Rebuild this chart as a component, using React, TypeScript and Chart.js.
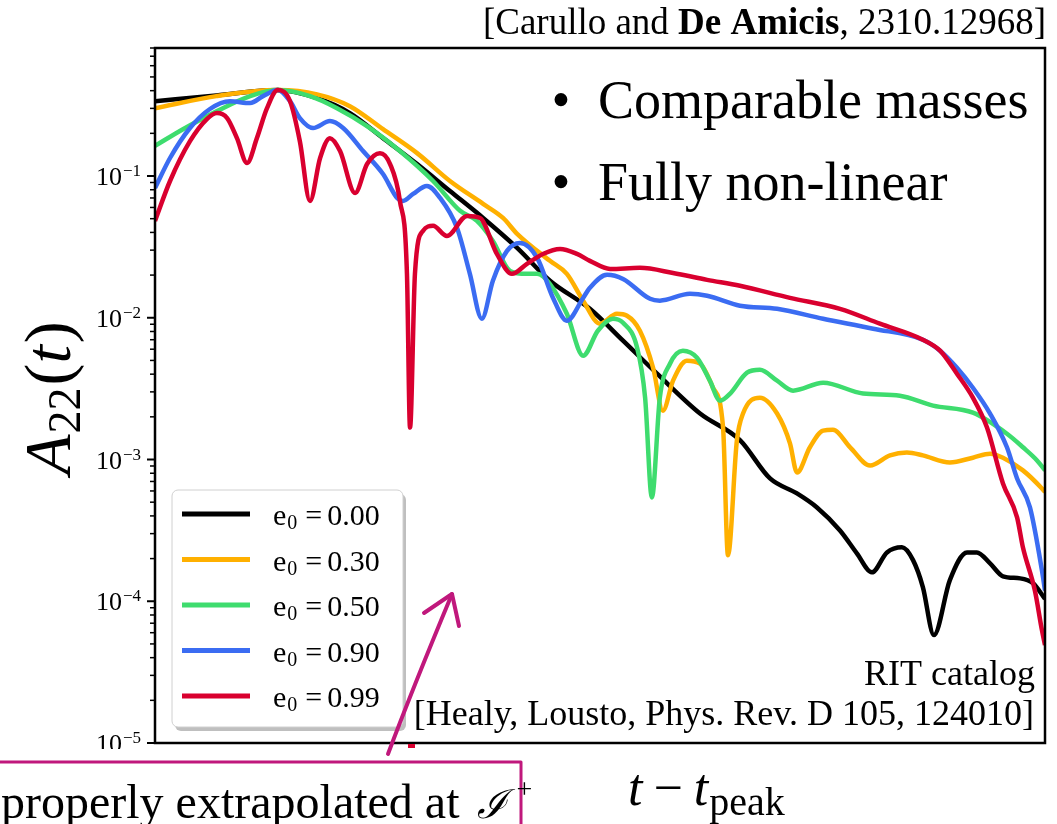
import React, { useEffect, useRef } from 'react';
import { Chart, registerables } from 'chart.js';

Chart.register(...registerables);

// ---------------- data ----------------
const eccLabels = ['0.00', '0.30', '0.50', '0.90', '0.99'];
const lineColors = ['#000000', '#FFB000', '#3EDC6E', '#3B6CF2', '#D9002F'];

// e0 = 0.00
const tE000 = [-40, -20, 0, 12.8, 23.5, 34.3, 45.4, 56.1, 66.9, 78.0, 88.7, 101.7, 112.5, 123.6, 137.6, 150.6, 160.4, 169.2, 175.7, 183.2, 188.7, 193.6, 198.5, 203.4, 207.0, 210.2, 213.8, 219.0, 224.6, 227.8, 232.1, 236.3, 241.9, 246.1, 250];
const aE000 = [0.337, 0.37, 0.404, 0.354, 0.278, 0.185, 0.1215, 0.0784, 0.0506, 0.0311, 0.01825, 0.01156, 0.00689, 0.00403, 0.00211, 0.00137, 0.000735, 0.000576, 0.000459, 0.000316, 0.000218, 0.00016, 0.000221, 0.00024, 0.000195, 0.000126, 5.77e-5, 0.000141, 0.000221, 0.000221, 0.000185, 0.00015, 0.000145, 0.000134, 0.000104];

// e0 = 0.30
const tE030 = [-40, -20, 0, 12.8, 23.5, 34.3, 45.4, 56.1, 66.9, 73.4, 78.0, 88.7, 94.2, 99.5, 105.0, 110.5, 113.8, 118.0, 122.3, 125.5, 128.8, 133.3, 137.6, 141.8, 145.1, 146.7, 149.6, 151.6, 157.1, 162.7, 166.9, 169.2, 173.4, 177.7, 180.9, 186.5, 193.0, 199.5, 205.0, 210.2, 219.0, 226.5, 232.1, 236.3, 242.8, 249.0, 250];
const aE030 = [0.301, 0.366, 0.404, 0.377, 0.311, 0.214, 0.145, 0.0922, 0.0636, 0.0506, 0.0391, 0.0252, 0.0204, 0.0132, 0.00908, 0.01067, 0.01033, 0.0081, 0.00444, 0.00221, 0.0036, 0.00497, 0.00474, 0.00321, 0.00168, 0.000211, 0.00136, 0.00211, 0.00273, 0.00211, 0.0013, 0.00081, 0.00122, 0.0016, 0.00162, 0.00122, 0.000908, 0.00107, 0.00112, 0.00107, 0.000953, 0.00103, 0.0011, 0.00103, 0.000838, 0.000625, 0.00059];

// e0 = 0.50
const tE050 = [-40, -30.9, -19.8, -9.0, 0, 10.5, 19.3, 29.1, 39.8, 50.6, 59.4, 64.9, 70.1, 75.7, 81.2, 84.5, 88.7, 94.2, 99.5, 104.3, 109.2, 112.5, 117.1, 119.7, 121.9, 124.5, 127.8, 132.0, 136.6, 140.8, 144.1, 147.4, 152.9, 157.1, 162.7, 167.9, 177.7, 190.7, 202.7, 213.5, 226.5, 237.6, 242.8, 247.4, 250];
const aE050 = [0.163, 0.214, 0.287, 0.366, 0.404, 0.366, 0.301, 0.225, 0.15, 0.0922, 0.0568, 0.0482, 0.0348, 0.0214, 0.0204, 0.0204, 0.0173, 0.01067, 0.0054, 0.0081, 0.00984, 0.00922, 0.00615, 0.00273, 0.00054, 0.00273, 0.00474, 0.00586, 0.00523, 0.0036, 0.0026, 0.00292, 0.0041, 0.0043, 0.0036, 0.00306, 0.00348, 0.00292, 0.00282, 0.0024, 0.00214, 0.00152, 0.00122, 0.000985, 0.000838];

// e0 = 0.90
const tE090 = [-40, -35.1, -28.6, -22.1, -15.6, -9.0, -4.8, 0, 4.0, 7.2, 11.5, 17.0, 21.3, 27.8, 34.3, 38.9, 40.8, 44.1, 48.6, 52.9, 58.4, 62.6, 66.5, 70.1, 74.7, 78.9, 84.5, 89.7, 94.2, 99.5, 101.7, 107.3, 112.5, 121.3, 124.5, 134.3, 139.9, 150.6, 162.7, 177.7, 194.0, 210.2, 215.8, 221.3, 226.5, 232.1, 237.6, 240.9, 245.1, 249.0, 250];
const aE090 = [0.0823, 0.134, 0.218, 0.297, 0.337, 0.327, 0.366, 0.404, 0.337, 0.256, 0.218, 0.244, 0.218, 0.15, 0.1033, 0.07, 0.0667, 0.0747, 0.0851, 0.07, 0.0431, 0.0204, 0.00984, 0.01825, 0.0296, 0.0337, 0.0265, 0.0138, 0.00953, 0.0138, 0.01626, 0.0201, 0.0188, 0.0136, 0.0132, 0.01476, 0.0143, 0.01216, 0.01156, 0.00984, 0.00837, 0.007, 0.00586, 0.00444, 0.00321, 0.00211, 0.00122, 0.000735, 0.000459, 0.000165, 0.000119];

// e0 = 0.99
const tE099 = [-40, -35.1, -28.6, -23.1, -19.8, -16.5, -13.3, -10.0, -6.8, -3.5, 0, 4.0, 7.2, 10.5, 13.8, 17.0, 20.3, 25.2, 29.1, 33.3, 36.6, 39.8, 42.1, 43.1, 44.7, 47.3, 50.6, 55.1, 61.7, 65.9, 71.4, 76.3, 81.2, 86.4, 92.0, 97.5, 101.7, 108.3, 118.0, 128.8, 139.9, 150.6, 166.9, 183.2, 196.2, 210.2, 215.8, 221.3, 226.5, 231.1, 236.3, 240.9, 242.8, 246.7, 249.0, 250];
const aE099 = [0.0482, 0.0922, 0.176, 0.252, 0.278, 0.256, 0.185, 0.1236, 0.185, 0.301, 0.404, 0.337, 0.176, 0.0667, 0.134, 0.185, 0.15, 0.0759, 0.1215, 0.145, 0.1215, 0.0667, 0.0204, 0.00168, 0.0204, 0.041, 0.0445, 0.0378, 0.0523, 0.0506, 0.0282, 0.0204, 0.024, 0.0282, 0.0306, 0.0282, 0.0252, 0.0221, 0.0225, 0.0207, 0.0185, 0.0168, 0.0138, 0.01156, 0.00908, 0.007, 0.00586, 0.00403, 0.00273, 0.00168, 0.000678, 0.000391, 0.00024, 0.000119, 6.25e-5, 4.9e-5];

const seriesT = [tE000, tE030, tE050, tE090, tE099];
const seriesA = [aE000, aE030, aE050, aE090, aE099];

const yDecades = [1e-1, 1e-2, 1e-3, 1e-4, 1e-5];
const yDecadeExps = ['\u22121', '\u22122', '\u22123', '\u22124', '\u22125'];
const xMin = -40;
const xMax = 250;
const yMin = 1e-5;
const yMax = 0.8;

// ---------------- helpers ----------------
type Run = { text: string; font: string; dy?: number; gap?: number };

function runsWidth(ctx: CanvasRenderingContext2D, runs: Run[]) {
  let w = 0;
  for (const r of runs) {
    ctx.font = r.font;
    w += ctx.measureText(r.text).width + (r.gap || 0);
  }
  return w;
}

function drawRuns(ctx: CanvasRenderingContext2D, runs: Run[], x: number, y: number) {
  let cx = x;
  ctx.textAlign = 'left';
  ctx.textBaseline = 'alphabetic';
  for (const r of runs) {
    ctx.font = r.font;
    ctx.fillText(r.text, cx, y + (r.dy || 0));
    cx += ctx.measureText(r.text).width + (r.gap || 0);
  }
  return cx;
}

const SERIF = '"Liberation Serif", "DejaVu Serif", serif';
const PINK = '#C0187C';

const decor = {
  id: 'decor',
  afterDraw(chart: any) {
    const ctx: CanvasRenderingContext2D = chart.ctx;
    const area = chart.chartArea;
    const ys = chart.scales.y;
    ctx.save();
    ctx.fillStyle = '#000';

    // frame
    ctx.strokeStyle = '#000';
    ctx.lineWidth = 2.5;
    ctx.strokeRect(area.left, area.top, area.right - area.left, area.bottom - area.top);

    // y ticks (major + minor)
    for (const dec of yDecades) {
      for (let m = 1; m <= 9; m++) {
        const v = m * dec;
        if (v > yMax * 1.0001) continue;
        const py = ys.getPixelForValue(v);
        const major = m === 1;
        ctx.lineWidth = major ? 2 : 1.5;
        ctx.beginPath();
        ctx.moveTo(area.left - (major ? 8 : 5), py);
        ctx.lineTo(area.left, py);
        ctx.stroke();
      }
    }
    // y tick labels
    yDecades.forEach((v, i) => {
      const py = ys.getPixelForValue(v);
      const runs: Run[] = [
        { text: '10', font: `26px ${SERIF}`, gap: 1 },
        { text: yDecadeExps[i], font: `17px ${SERIF}`, dy: -9 },
      ];
      const w = runsWidth(ctx, runs);
      drawRuns(ctx, runs, 141 - w, py + 9);
    });
    // the slide cuts the lowest label
    ctx.fillStyle = '#fff';
    ctx.fillRect(80, 749, 68, 14);
    ctx.fillStyle = '#000';

    // y axis label A22(t)
    ctx.save();
    ctx.translate(70, 398);
    ctx.rotate(-Math.PI / 2);
    const yl: Run[] = [
      { text: 'A', font: `italic 66px ${SERIF}`, gap: 1 },
      { text: '22', font: `46px ${SERIF}`, dy: 10, gap: 2 },
      { text: '(', font: `66px ${SERIF}` },
      { text: 't', font: `italic 66px ${SERIF}`, gap: 2 },
      { text: ')', font: `66px ${SERIF}` },
    ];
    drawRuns(ctx, yl, -runsWidth(ctx, yl) / 2, 0);
    ctx.restore();

    // x axis label t - t_peak
    drawRuns(ctx, [
      { text: 't', font: `italic 52px ${SERIF}`, gap: 11 },
      { text: '\u2212', font: `52px ${SERIF}`, gap: 11 },
      { text: 't', font: `italic 52px ${SERIF}`, gap: 1 },
      { text: 'peak', font: `40px ${SERIF}`, dy: 10 },
    ], 628, 805);

    // top citation
    const cite: Run[] = [
      { text: '[Carullo and ', font: `37px ${SERIF}` },
      { text: 'De Amicis', font: `bold 37px ${SERIF}` },
      { text: ', 2310.12968]', font: `37px ${SERIF}` },
    ];
    drawRuns(ctx, cite, 1046 - runsWidth(ctx, cite), 34);

    // bullets
    ctx.font = `54px ${SERIF}`;
    ctx.textAlign = 'center';
    ctx.fillText('\u2022', 561, 118);
    ctx.fillText('\u2022', 561, 200);
    ctx.textAlign = 'left';
    ctx.fillText('Comparable masses', 598, 118);
    ctx.fillText('Fully non-linear', 598, 200);

    // RIT catalog reference
    ctx.font = `36px ${SERIF}`;
    ctx.textAlign = 'right';
    ctx.fillText('RIT catalog', 1035, 685);
    ctx.fillText('[Healy, Lousto, Phys. Rev. D 105, 124010]', 1034, 725);
    ctx.textAlign = 'left';

    // legend
    const lx = 172, ly = 490, lw = 231, lh = 237;
    ctx.fillStyle = 'rgba(0,0,0,0.25)';
    ctx.beginPath();
    ctx.roundRect(lx + 3, ly + 4, lw, lh, 6);
    ctx.fill();
    ctx.fillStyle = '#ffffff';
    ctx.strokeStyle = '#d0d0d0';
    ctx.lineWidth = 1;
    ctx.beginPath();
    ctx.roundRect(lx, ly, lw, lh, 6);
    ctx.fill();
    ctx.stroke();
    chart.data.datasets.forEach((ds: any, i: number) => {
      const ry = 514 + i * 45.5;
      ctx.strokeStyle = ds.borderColor;
      ctx.lineWidth = 5;
      ctx.beginPath();
      ctx.moveTo(182, ry);
      ctx.lineTo(250, ry);
      ctx.stroke();
      ctx.fillStyle = '#000';
      drawRuns(ctx, [
        { text: 'e', font: `30px ${SERIF}`, gap: 1 },
        { text: '0', font: `20px ${SERIF}`, dy: 4, gap: 8 },
        { text: '=', font: `30px ${SERIF}`, gap: 5 },
        { text: ds.label, font: `30px ${SERIF}` },
      ], 273, ry + 11);
    });

    // slide overlay: red mark, pink arrow and pink box
    ctx.fillStyle = '#D9002F';
    ctx.fillRect(408, 744, 7, 4);

    ctx.strokeStyle = PINK;
    ctx.lineCap = 'round';
    ctx.lineJoin = 'round';
    ctx.lineWidth = 4;
    ctx.beginPath();
    ctx.moveTo(388, 754);
    ctx.quadraticCurveTo(412, 690, 452, 594);
    ctx.stroke();
    ctx.beginPath();
    ctx.moveTo(424, 613);
    ctx.lineTo(452, 594);
    ctx.lineTo(459, 626);
    ctx.stroke();

    ctx.lineWidth = 3;
    ctx.lineCap = 'butt';
    ctx.beginPath();
    ctx.moveTo(0, 762);
    ctx.lineTo(521, 762);
    ctx.lineTo(521, 824);
    ctx.stroke();

    ctx.fillStyle = '#000';
    drawRuns(ctx, [
      { text: 'properly extrapolated at ', font: `48px ${SERIF}`, gap: 6 },
      { text: '\u2110', font: `italic 40px "DejaVu Serif", serif`, gap: 9 },
      { text: '+', font: `28px ${SERIF}`, dy: -20 },
    ], 1, 818);

    ctx.restore();
  },
};

export default function App() {
  const canvasRef = useRef<HTMLCanvasElement | null>(null);

  useEffect(() => {
    const canvas = canvasRef.current;
    if (!canvas) return;
    const datasets = seriesT.map((ts, si) => ({
      label: eccLabels[si],
      data: ts.map((t, i) => ({ x: t, y: seriesA[si][i] })),
      borderColor: lineColors[si],
      backgroundColor: lineColors[si],
      borderWidth: 4.5,
      pointRadius: 0,
      fill: false,
      cubicInterpolationMode: 'monotone' as const,
      order: seriesT.length - 1 - si,
    }));
    const chart = new Chart(canvas, {
      type: 'line',
      data: { datasets },
      options: {
        responsive: false,
        animation: false,
        layout: { padding: { left: 155, top: 48, right: 12, bottom: 81 } },
        scales: {
          x: { type: 'linear', display: false, min: xMin, max: xMax },
          y: { type: 'logarithmic', display: false, min: yMin, max: yMax },
        },
        plugins: {
          legend: { display: false },
          tooltip: { enabled: false },
        },
        elements: { point: { radius: 0 } },
      },
      plugins: [decor],
    });
    return () => chart.destroy();
  }, []);

  return (
    <div style={{ position: 'absolute', left: 0, top: 0, width: 1057, height: 824, background: '#ffffff' }}>
      <canvas ref={canvasRef} width={1057} height={824} style={{ display: 'block' }} />
    </div>
  );
}
